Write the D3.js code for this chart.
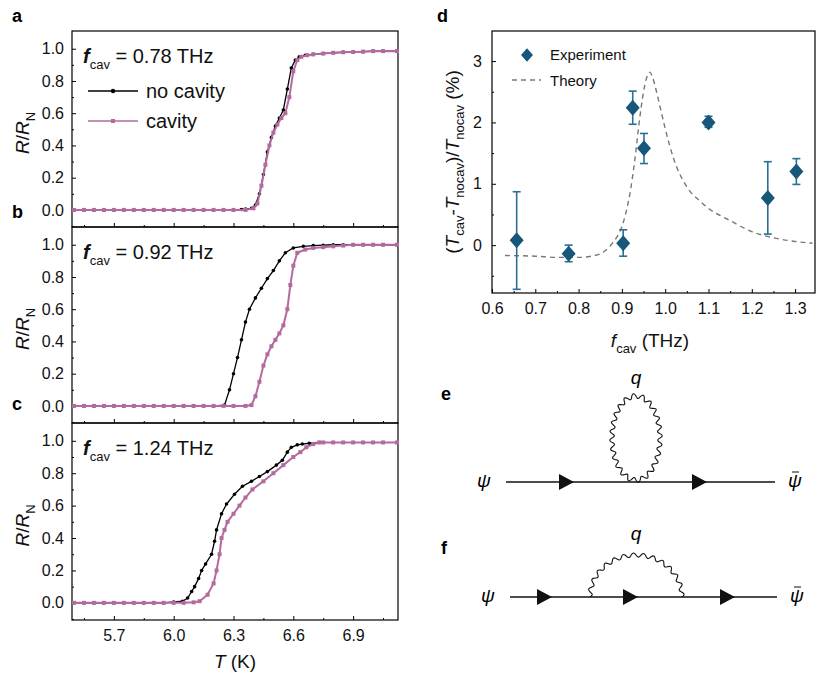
<!DOCTYPE html>
<html><head><meta charset="utf-8">
<script src="https://cdn.jsdelivr.net/npm/d3@7"></script>
<style>
body{margin:0;background:#fff}
text{font-family:Arial,"Liberation Sans",sans-serif}
</style></head>
<body><svg id="fig" width="831" height="680"></svg>
<script>
// panel a (0.78 THz)
const aNoT = [5.5,5.55,5.6,5.65,5.7,5.75,5.8,5.85,5.9,5.95,6.0,6.05,6.1,6.15,6.2,6.25,6.3,6.34,6.36,6.39,6.41,6.43,6.45,6.47,6.49,6.51,6.53,6.55,6.57,6.59,6.61,6.63,6.66,6.7,6.75,6.8,6.85,6.9,6.95,7.0,7.05,7.12];
const aNoR = [0,0,0,0,0,0,0,0,0,0,0,0,0,0,0,0,0,0.003,0.005,0.01,0.03,0.1,0.22,0.36,0.45,0.52,0.57,0.62,0.75,0.88,0.93,0.95,0.96,0.965,0.97,0.975,0.978,0.98,0.982,0.985,0.985,0.985];
const aCavT = [5.5,5.55,5.6,5.65,5.7,5.75,5.8,5.85,5.9,5.95,6.0,6.05,6.1,6.15,6.2,6.25,6.3,6.36,6.4,6.42,6.44,6.46,6.48,6.5,6.52,6.54,6.56,6.58,6.6,6.62,6.64,6.67,6.7,6.75,6.8,6.85,6.9,6.95,7.0,7.05,7.12];
const aCavR = [0,0,0,0,0,0,0,0,0,0,0,0,0,0,0,0,0,0,0.01,0.04,0.15,0.28,0.4,0.48,0.53,0.57,0.6,0.7,0.86,0.93,0.95,0.96,0.965,0.97,0.975,0.978,0.98,0.982,0.985,0.985,0.985];
// panel b (0.92 THz)
const bNoT = [5.5,5.55,5.6,5.65,5.7,5.75,5.8,5.85,5.9,5.95,6.0,6.05,6.1,6.15,6.2,6.255,6.28,6.3,6.32,6.34,6.36,6.38,6.41,6.44,6.47,6.5,6.53,6.56,6.6,6.65,6.7,6.75,6.8,6.85,6.9,6.95,7.0,7.05,7.12];
const bNoR = [0,0,0,0,0,0,0,0,0,0,0,0,0,0,0,0.005,0.1,0.2,0.3,0.41,0.52,0.6,0.67,0.73,0.79,0.84,0.9,0.95,0.98,0.99,0.995,0.997,1,1,1,1,1,1,1];
const bCavT = [5.5,5.55,5.6,5.65,5.7,5.75,5.8,5.85,5.9,5.95,6.0,6.05,6.1,6.15,6.2,6.25,6.3,6.36,6.39,6.41,6.43,6.45,6.47,6.49,6.51,6.53,6.55,6.57,6.585,6.6,6.62,6.66,6.7,6.75,6.8,6.85,6.9,6.95,7.0,7.05,7.12];
const bCavR = [0,0,0,0,0,0,0,0,0,0,0,0,0,0,0,0,0,0,0.005,0.06,0.15,0.25,0.32,0.37,0.41,0.45,0.5,0.6,0.75,0.87,0.95,0.97,0.98,0.985,0.99,0.995,1,1,1,1,1];
// panel c (1.24 THz)
const cNoT = [5.5,5.55,5.6,5.65,5.7,5.75,5.8,5.85,5.9,5.95,6.0,6.045,6.07,6.09,6.105,6.125,6.14,6.16,6.19,6.205,6.215,6.24,6.265,6.305,6.345,6.39,6.43,6.47,6.515,6.545,6.57,6.59,6.62,6.645,6.68,6.73];
const cNoR = [0,0,0,0,0,0,0,0,0,0,0.005,0.01,0.03,0.07,0.1,0.15,0.2,0.24,0.3,0.38,0.45,0.55,0.61,0.67,0.72,0.75,0.78,0.81,0.85,0.88,0.93,0.96,0.975,0.98,0.985,0.99];
const cCavT = [5.5,5.55,5.6,5.65,5.7,5.75,5.8,5.85,5.9,5.95,6.0,6.05,6.1,6.13,6.17,6.2,6.215,6.23,6.24,6.255,6.27,6.3,6.33,6.36,6.395,6.45,6.5,6.55,6.6,6.635,6.665,6.7,6.73,6.75,6.8,6.85,6.9,6.95,7.0,7.05,7.12];
const cCavR = [0,0,0,0,0,0,0,0,0,0,0,0,0.003,0.01,0.05,0.12,0.2,0.3,0.4,0.45,0.5,0.55,0.6,0.65,0.7,0.75,0.8,0.85,0.9,0.93,0.96,0.98,0.99,0.99,0.99,0.99,0.99,0.99,0.99,0.99,0.99];
const panelFreq = ['0.78','0.92','1.24'];
const tTicks = [5.7,6.0,6.3,6.6,6.9];
const rTicks = [0,0.2,0.4,0.6,0.8,1.0];
// panel d
const expF = [0.657,0.777,0.903,0.925,0.951,1.10,1.237,1.303];
const expY = [0.08,-0.14,0.03,2.24,1.58,2.0,0.77,1.2];
const expLo = [-0.72,-0.27,-0.18,1.97,1.33,1.92,0.18,0.99];
const expHi = [0.87,0.0,0.25,2.51,1.82,2.1,1.36,1.41];
const thF = [0.63,0.7,0.75,0.8,0.83,0.86,0.88,0.9,0.91,0.92,0.93,0.94,0.95,0.96,0.965,0.97,0.98,0.99,1.0,1.02,1.05,1.08,1.1,1.15,1.2,1.25,1.3,1.34];
const thY = [-0.17,-0.18,-0.2,-0.2,-0.18,-0.1,0.05,0.3,0.55,0.9,1.4,2.0,2.5,2.78,2.82,2.75,2.5,2.2,1.9,1.4,0.95,0.72,0.6,0.4,0.22,0.12,0.06,0.03];
const fTicks = [0.6,0.7,0.8,0.9,1.0,1.1,1.2,1.3];
const dTicks = [0,1,2,3];

const svg = d3.select('#fig');
const pink = '#b36b9e';
const x = d3.scaleLinear().domain([5.49,7.125]).range([72,398]);
const panels = [
  {top:31,bot:227,noT:aNoT,noR:aNoR,cT:aCavT,cR:aCavR,lab:'a',ly:22},
  {top:227,bot:423,noT:bNoT,noR:bNoR,cT:bCavT,cR:bCavR,lab:'b',ly:218},
  {top:423,bot:620,noT:cNoT,noR:cNoR,cT:cCavT,cR:cCavR,lab:'c',ly:410}
];
panels.forEach((p,i) => {
  const y = d3.scaleLinear().domain([-0.106,1.11]).range([p.bot,p.top]);
  const g = svg.append('g');
  g.append('rect').attr('x',72).attr('y',p.top).attr('width',326).attr('height',p.bot-p.top)
    .attr('fill','none').attr('stroke','#000').attr('stroke-width',1.2);
  const ya = g.append('g').attr('transform','translate(72,0)')
    .call(d3.axisLeft(y).tickValues(rTicks).tickFormat(d3.format('.1f')).tickSizeInner(-4).tickSizeOuter(0).tickPadding(8));
  ya.select('.domain').remove();
  ya.selectAll('text').attr('font-size',16).attr('fill','#111');
  g.append('g').attr('transform','translate(72,0)')
    .call(d3.axisLeft(y).tickValues([-0.1,0.1,0.3,0.5,0.7,0.9]).tickFormat('').tickSizeInner(-2).tickSizeOuter(0))
    .select('.domain').remove();
  const xa = g.append('g').attr('transform',`translate(0,${p.bot})`)
    .call(d3.axisBottom(x).tickValues(tTicks).tickSizeInner(-4).tickSizeOuter(0).tickPadding(10)
      .tickFormat(i===2?d3.format('.1f'):''));
  xa.select('.domain').remove();
  xa.selectAll('text').attr('font-size',16).attr('fill','#111');
  g.append('g').attr('transform',`translate(0,${p.bot})`)
    .call(d3.axisBottom(x).tickValues([5.55,5.85,6.15,6.45,6.75,7.05]).tickFormat('').tickSizeInner(-2).tickSizeOuter(0))
    .select('.domain').remove();
  const line = d3.line().x(d=>x(d[0])).y(d=>y(d[1]));
  const no = p.noT.map((t,k)=>[t,p.noR[k]]);
  const cv = p.cT.map((t,k)=>[t,p.cR[k]]);
  g.append('path').datum(no).attr('d',line).attr('fill','none').attr('stroke','#000').attr('stroke-width',1.3);
  g.selectAll('.nd').data(no).enter().append('circle').attr('cx',d=>x(d[0])).attr('cy',d=>y(d[1])).attr('r',1.8).attr('fill','#000');
  g.append('path').datum(cv).attr('d',line).attr('fill','none').attr('stroke',pink).attr('stroke-width',2);
  g.selectAll('.cd').data(cv).enter().append('rect').attr('x',d=>x(d[0])-2).attr('y',d=>y(d[1])-2).attr('width',4).attr('height',4).attr('fill',pink);
  const ft = g.append('text').attr('x',83).attr('y',y(0.95)+6).attr('font-size',20).attr('fill','#111');
  ft.append('tspan').text('f').attr('font-style','italic').attr('font-weight','bold');
  ft.append('tspan').text('cav').attr('font-size',13).attr('dy',6);
  ft.append('tspan').text(` = ${panelFreq[i]} THz`).attr('dy',-6);
  const yl = g.append('text').attr('transform',`translate(29,${(p.top+p.bot)/2+4}) rotate(-90)`).attr('text-anchor','middle').attr('font-size',19).attr('fill','#111');
  yl.append('tspan').text('R').attr('font-style','italic');
  yl.append('tspan').text('/');
  yl.append('tspan').text('R').attr('font-style','italic');
  yl.append('tspan').text('N').attr('font-size',13).attr('dy',6);
  svg.append('text').attr('x',12).attr('y',p.ly).text(p.lab).attr('font-weight','bold').attr('font-size',18);
  if (i===0) {
    g.append('line').attr('x1',88).attr('x2',138).attr('y1',91).attr('y2',91).attr('stroke','#000').attr('stroke-width',1.3);
    g.append('circle').attr('cx',113).attr('cy',91).attr('r',2.2);
    g.append('text').attr('x',146).attr('y',98).text('no cavity').attr('font-size',20).attr('fill','#111');
    g.append('line').attr('x1',88).attr('x2',138).attr('y1',121).attr('y2',121).attr('stroke',pink).attr('stroke-width',1.5);
    g.append('rect').attr('x',111).attr('y',119).attr('width',4).attr('height',4).attr('fill',pink);
    g.append('text').attr('x',146).attr('y',128).text('cavity').attr('font-size',20).attr('fill','#111');
  }
});
const xl = svg.append('text').attr('x',235).attr('y',668).attr('text-anchor','middle').attr('font-size',19).attr('fill','#111');
xl.append('tspan').text('T').attr('font-style','italic');
xl.append('tspan').text(' (K)');

// panel d
const fx = d3.scaleLinear().domain([0.6,1.346]).range([492,815]);
const dy = d3.scaleLinear().domain([-0.78,3.49]).range([293,31]);
svg.append('rect').attr('x',492).attr('y',31).attr('width',323).attr('height',262).attr('fill','none').attr('stroke','#000').attr('stroke-width',1.2);
const dxa = svg.append('g').attr('transform','translate(0,293)')
  .call(d3.axisBottom(fx).tickValues(fTicks).tickFormat(d3.format('.1f')).tickSizeInner(-4).tickSizeOuter(0).tickPadding(10));
dxa.select('.domain').remove();
dxa.selectAll('text').attr('font-size',16).attr('fill','#111');
svg.append('g').attr('transform','translate(0,293)')
  .call(d3.axisBottom(fx).tickValues([0.65,0.75,0.85,0.95,1.05,1.15,1.25]).tickFormat('').tickSizeInner(-2).tickSizeOuter(0)).select('.domain').remove();
const dya = svg.append('g').attr('transform','translate(492,0)')
  .call(d3.axisLeft(dy).tickValues(dTicks).tickFormat(d3.format('d')).tickSizeInner(-4).tickSizeOuter(0).tickPadding(10));
dya.select('.domain').remove();
dya.selectAll('text').attr('font-size',16).attr('fill','#111');
svg.append('g').attr('transform','translate(492,0)')
  .call(d3.axisLeft(dy).tickValues([-0.5,0.5,1.5,2.5]).tickFormat('').tickSizeInner(-2).tickSizeOuter(0)).select('.domain').remove();
svg.append('path').datum(thF.map((f,k)=>[f,thY[k]]))
  .attr('d',d3.line().curve(d3.curveMonotoneX).x(d=>fx(d[0])).y(d=>dy(d[1])))
  .attr('fill','none').attr('stroke','#777').attr('stroke-width',1.4).attr('stroke-dasharray','5,4');
const blue = '#16577a';
const diamond = 'M0,-8L7,0L0,8L-7,0Z';
expF.forEach((f,k) => {
  svg.append('line').attr('x1',fx(f)).attr('x2',fx(f)).attr('y1',dy(expLo[k])).attr('y2',dy(expHi[k])).attr('stroke','#2a6f96').attr('stroke-width',1.6);
  [expLo[k],expHi[k]].forEach(v => svg.append('line').attr('x1',fx(f)-4).attr('x2',fx(f)+4).attr('y1',dy(v)).attr('y2',dy(v)).attr('stroke','#2a6f96').attr('stroke-width',1.6));
  svg.append('path').attr('d',diamond).attr('transform',`translate(${fx(f)},${dy(expY[k])})`).attr('fill',blue);
});
svg.append('path').attr('d',diamond).attr('transform','translate(527,55) scale(0.85)').attr('fill',blue);
svg.append('text').attr('x',550).attr('y',60).text('Experiment').attr('font-size',15).attr('fill','#111');
svg.append('line').attr('x1',512).attr('x2',541).attr('y1',80).attr('y2',80).attr('stroke','#777').attr('stroke-width',1.4).attr('stroke-dasharray','5,4');
svg.append('text').attr('x',550).attr('y',86).text('Theory').attr('font-size',15).attr('fill','#111');
svg.append('text').attr('x',437).attr('y',22).text('d').attr('font-weight','bold').attr('font-size',18);
const dyl = svg.append('text').attr('transform','translate(459,162) rotate(-90)').attr('text-anchor','middle').attr('font-size',19).attr('fill','#111');
dyl.append('tspan').text('(');
dyl.append('tspan').text('T').attr('font-style','italic');
dyl.append('tspan').text('cav').attr('font-size',13).attr('dy',5);
dyl.append('tspan').text('-').attr('dy',-5);
dyl.append('tspan').text('T').attr('font-style','italic');
dyl.append('tspan').text('nocav').attr('font-size',13).attr('dy',5);
dyl.append('tspan').text(')/').attr('dy',-5);
dyl.append('tspan').text('T').attr('font-style','italic');
dyl.append('tspan').text('nocav').attr('font-size',13).attr('dy',5);
dyl.append('tspan').text(' (%)').attr('dy',-5);
const dxl = svg.append('text').attr('x',650).attr('y',347).attr('text-anchor','middle').attr('font-size',19).attr('fill','#111');
dxl.append('tspan').text('f').attr('font-style','italic');
dxl.append('tspan').text('cav').attr('font-size',13).attr('dy',6);
dxl.append('tspan').text(' (THz)').attr('dy',-6);

// diagrams e, f
function wavy(pts, amp, waves) {
  const n = pts.length, out = [];
  const len = [0];
  for (let k=1;k<n;k++) len.push(len[k-1]+Math.hypot(pts[k][0]-pts[k-1][0],pts[k][1]-pts[k-1][1]));
  const L = len[n-1];
  for (let k=0;k<n;k++) {
    const a = pts[Math.max(k-1,0)], b = pts[Math.min(k+1,n-1)];
    const dx = b[0]-a[0], dyv = b[1]-a[1], h = Math.hypot(dx,dyv)||1;
    const s = amp*Math.sin(2*Math.PI*waves*len[k]/L);
    out.push([pts[k][0]-dyv/h*s, pts[k][1]+dx/h*s]);
  }
  return d3.line().curve(d3.curveBasis)(out);
}
function tri(cx, cy) {
  return `M${cx-7},${cy-8}L${cx+8},${cy}L${cx-7},${cy+8}Z`;
}
function serif(xp, yp, t) {
  return svg.append('text').attr('x',xp).attr('y',yp).attr('font-family','"Liberation Serif",serif').attr('font-style','italic').attr('font-size',19).attr('text-anchor','middle').text(t);
}
function fermion(y0, x0, x1, arrows) {
  svg.append('line').attr('x1',x0).attr('x2',x1).attr('y1',y0).attr('y2',y0).attr('stroke','#111').attr('stroke-width',1.3);
  arrows.forEach(ax => svg.append('path').attr('d',tri(ax,y0)).attr('fill','#111'));
  serif(x0-22, y0+5, 'ψ');
  serif(x1+20, y0+5, 'ψ');
  svg.append('line').attr('x1',x1+17).attr('x2',x1+24).attr('y1',y0-10).attr('y2',y0-10).attr('stroke','#111').attr('stroke-width',1);
}
// e
fermion(482, 506, 775, [566, 699]);
const loopPts = d3.range(0,361,1.5).map(a => {
  const r = a*Math.PI/180;
  return [636 - 24*Math.sin(r), 438 + 42*Math.cos(r)];
});
svg.append('path').attr('d',wavy(loopPts,2.5,24)).attr('fill','none').attr('stroke','#111').attr('stroke-width',1.1);
serif(636, 384, 'q');
svg.append('text').attr('x',441).attr('y',400).text('e').attr('font-weight','bold').attr('font-size',18);
// f
fermion(597, 510, 777, [544, 630, 727]);
const arcPts = d3.range(180,361,1.5).map(a => {
  const r = a*Math.PI/180;
  return [636 + 46*Math.cos(r), 597 + 42*Math.sin(r)];
});
svg.append('path').attr('d',wavy(arcPts,2.3,14)).attr('fill','none').attr('stroke','#111').attr('stroke-width',1.1);
serif(636, 540, 'q');
svg.append('text').attr('x',441).attr('y',554).text('f').attr('font-weight','bold').attr('font-size',18);
</script></body></html>
